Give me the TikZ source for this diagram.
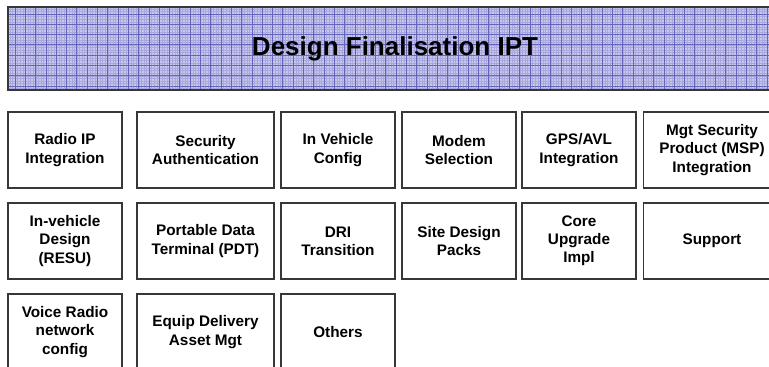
\documentclass[tikz,border=0pt]{standalone}
\usepackage{fontspec}
\setmainfont{Liberation Sans}
\definecolor{iptGridBack}{RGB}{200,200,236}
\definecolor{iptGridFine}{RGB}{168,168,222}
\definecolor{iptGridLine}{RGB}{100,100,186}
\definecolor{iptEdge}{RGB}{55,55,55}

\begin{document}
\begin{tikzpicture}[x=1pt, y=-1pt,
    iptHeader/.style={draw=iptEdge, line width=1.6pt, fill=iptGridBack, minimum width=774pt, minimum height=83pt,
        font=\bfseries\fontsize{26}{31}\selectfont,
        path picture={
            \draw[iptGridFine, line width=0.35pt, step=2.575pt] (path picture bounding box.south west) grid (path picture bounding box.north east);
            \draw[iptGridLine, line width=0.8pt, step=10.3pt] (path picture bounding box.south west) grid (path picture bounding box.north east);}},
    iptBox/.style={draw=iptEdge, line width=1.2pt, minimum width=114pt, minimum height=76pt, align=center,
        font=\bfseries\fontsize{15.3}{18.2}\selectfont},
    iptWide/.style={iptBox, minimum width=137pt}]

    \useasboundingbox (0, 0) rectangle (769, 367);

    % Header
    \node[iptHeader] (header) at (395, 48.5) {Design Finalisation IPT};

    % Row 1
    \node[iptBox] (radioIP) at (65, 150) {Radio IP\\Integration};
    \node[iptWide] (secAuth) at (205.5, 150) {Security\\Authentication};
    \node[iptBox] (vehConfig) at (338, 150) {In Vehicle\\Config};
    \node[iptBox] (modemSel) at (459, 150) {Modem\\Selection};
    \node[iptBox] (gpsAvl) at (579, 150) {GPS/AVL\\Integration};
    \node[iptWide] (mgtSec) at (712, 150) {Mgt Security\\Product (MSP)\\Integration};

    % Row 2
    \node[iptBox] (vehDesign) at (65, 241) {In-vehicle\\Design\\(RESU)};
    \node[iptWide] (pdt) at (205.5, 241) {Portable Data\\Terminal (PDT)};
    \node[iptBox] (driTrans) at (338, 241) {DRI\\Transition};
    \node[iptBox] (sitePacks) at (459, 241) {Site Design\\Packs};
    \node[iptBox] (coreUpg) at (579, 241) {Core\\Upgrade\\Impl};
    \node[iptWide] (support) at (712, 241) {Support};

    % Row 3
    \node[iptBox] (voiceNet) at (65, 332) {Voice Radio\\network\\config};
    \node[iptWide] (equipDel) at (205.5, 332) {Equip Delivery\\Asset Mgt};
    \node[iptBox] (others) at (338, 332) {Others};
\end{tikzpicture}
\end{document}
